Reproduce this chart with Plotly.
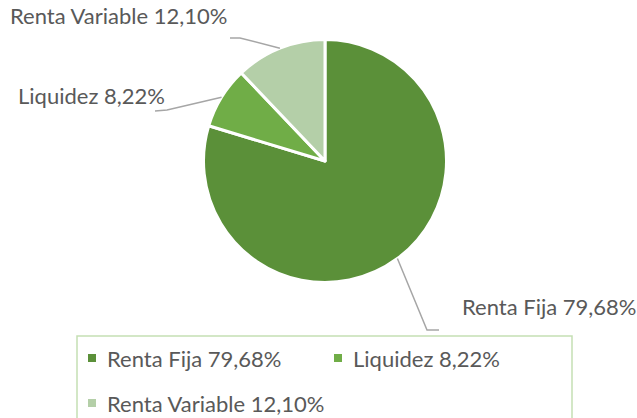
import math
import plotly.graph_objects as go

# ---- data ----
categories = ["Renta Fija", "Liquidez", "Renta Variable"]
values = [79.68, 8.22, 12.10]
value_labels = ["79,68%", "8,22%", "12,10%"]
colors = ["#5B9039", "#70AD47", "#B4CFA8"]

W, H = 637, 418
FONT = "Lato"
FS = 22
TXT = "#595959"
LINE = "#A6A6A6"

def px(x):
    return x / W

def py(y):
    return (H - y) / H

# pie geometry (pixels)
cx, cy, r = 325, 161, 121.5

fig = go.Figure()
fig.add_trace(go.Pie(
    labels=categories,
    values=values,
    sort=False,
    direction="clockwise",
    rotation=0,
    marker=dict(colors=colors, line=dict(color="white", width=3)),
    textinfo="none",
    hoverinfo="label+percent",
    showlegend=False,
    domain=dict(x=[px(cx - r), px(cx + r)], y=[py(cy + r), py(cy - r)]),
))

# label placement (layout positions, pixels): elbow, end, text position
label_layout = [
    dict(elbow=(427, 330), end=(439, 330), tx=460, ty=306, anchor="left"),
    dict(elbow=(167, 110), end=(155, 111), tx=167, ty=95, anchor="right"),
    dict(elbow=(240, 38), end=(230, 38), tx=229, ty=16, anchor="right"),
]

total = sum(values)
cum = 0.0
shapes = []
annotations = []
for cat, val, vl, lay in zip(categories, values, value_labels, label_layout):
    mid = (cum + val / 2) / total * 2 * math.pi
    cum += val
    sx = cx + r * math.sin(mid)
    sy = cy - r * math.cos(mid)
    pts = [(sx, sy), lay["elbow"], lay["end"]]
    path = "M " + " L ".join(f"{px(a)},{py(b)}" for a, b in pts)
    shapes.append(dict(type="path", xref="paper", yref="paper", path=path,
                       line=dict(color=LINE, width=1.5)))
    annotations.append(dict(text=f"{cat} {vl}", x=px(lay["tx"]), y=py(lay["ty"]),
                            xref="paper", yref="paper", showarrow=False,
                            xanchor=lay["anchor"], yanchor="middle",
                            font=dict(family=FONT, size=FS, color=TXT)))

# legend box (drawn manually)
shapes.append(dict(type="rect", xref="paper", yref="paper",
                   x0=px(77), x1=px(572), y0=py(336), y1=py(430),
                   line=dict(color="#C5E0B4", width=1.5), fillcolor="rgba(0,0,0,0)"))
legend_pos = [(92, 358), (338, 358), (92, 403)]
for cat, vl, col, (lx, ly) in zip(categories, value_labels, colors, legend_pos):
    shapes.append(dict(type="rect", xref="paper", yref="paper",
                       x0=px(lx - 4), x1=px(lx + 4), y0=py(ly + 4), y1=py(ly - 4),
                       line=dict(width=0), fillcolor=col))
    annotations.append(dict(text=f"{cat} {vl}", x=px(lx + 13), y=py(ly),
                            xref="paper", yref="paper", showarrow=False,
                            xanchor="left", yanchor="middle",
                            font=dict(family=FONT, size=FS, color=TXT)))

fig.update_layout(
    width=W, height=H,
    margin=dict(l=0, r=0, t=0, b=0, autoexpand=False),
    paper_bgcolor="white",
    plot_bgcolor="white",
    shapes=shapes,
    annotations=annotations,
    showlegend=False,
)

fig.write_html("out.html")
